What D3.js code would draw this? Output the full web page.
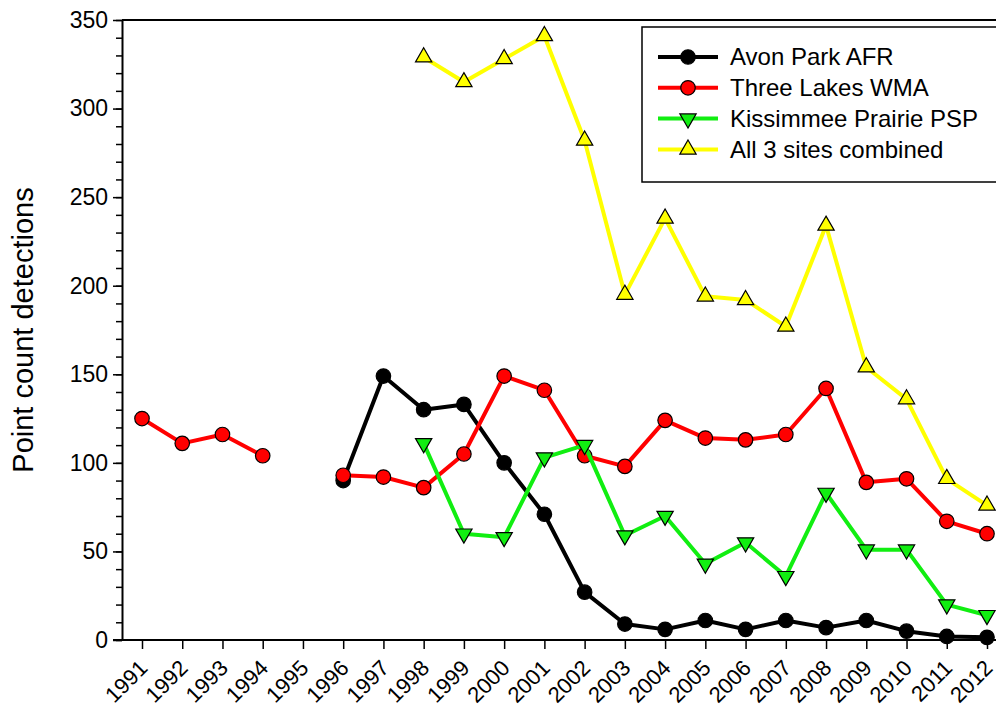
<!DOCTYPE html>
<html>
<head>
<meta charset="utf-8">
<script src="https://cdn.jsdelivr.net/npm/d3@7"></script>
<style>
  body { margin: 0; background: #fff; }
  svg { display: block; font-family: Arial, "Liberation Sans", sans-serif; }
</style>
</head>
<body>
<svg id="chart" width="996" height="707"></svg>
<script>
// data
const years = d3.range(1991, 2013)
const avonPark = [null, null, null, null, null, 90, 149, 130, 133, 100, 71, 27, 9, 6, 11, 6, 11, 7, 11, 5, 2, 1.5]
const threeLakes = [125, 111, 116, 104, null, 93, 92, 86, 105, 149, 141, 104, 98, 124, 114, 113, 116, 142, 89, 91, 67, 60]
const kissimmee = [null, null, null, null, null, null, null, 111, 60, 58, 103, 110, 59, 70, 43, 55, 36, 83, 51, 51, 20, 14]
const combined = [null, null, null, null, null, null, null, 329, 315, 328, 341, 282, 195, 238, 194, 192, 177, 234, 154, 136, 91, 76]
const yTicks = [0, 50, 100, 150, 200, 250, 300, 350]

const series = [
    { name: 'Avon Park AFR', values: avonPark, color: '#000000', shape: 'circle' },
    { name: 'Three Lakes WMA', values: threeLakes, color: '#ff0000', shape: 'circle' },
    { name: 'Kissimmee Prairie PSP', values: kissimmee, color: '#11ee11', shape: 'down' },
    { name: 'All 3 sites combined', values: combined, color: '#ffff00', shape: 'up' }
]

const margin = { top: 20, left: 122, bottom: 640 }
const svg = d3.select('#chart')

const x = d3.scaleLinear()
    .domain([1991, 2012])
    .range([142, 987])

const y = d3.scaleLinear()
    .domain([0, 350])
    .range([margin.bottom, margin.top])

// minor y ticks
svg.append('g')
    .attr('transform', `translate(${margin.left},0)`)
    .call(d3.axisLeft(y).tickValues(d3.range(0, 351, 10)).tickSize(6).tickFormat(''))
    .call(g => g.select('.domain').remove())
    .selectAll('line').attr('stroke-width', 1.5)

// major y axis
const yAxis = svg.append('g')
    .attr('transform', `translate(${margin.left},0)`)
    .call(d3.axisLeft(y).tickValues(yTicks).tickSize(9).tickSizeOuter(0).tickPadding(5))
yAxis.select('.domain').attr('stroke-width', 2)
yAxis.selectAll('line').attr('stroke-width', 1.5)
yAxis.selectAll('text').style('font-size', '23px').attr('fill', '#000')

// top frame line
svg.append('line')
    .attr('x1', margin.left).attr('x2', 1000)
    .attr('y1', y(350)).attr('y2', y(350))
    .attr('stroke', '#000').attr('stroke-width', 2)

// x axis
const xAxis = svg.append('g')
    .attr('transform', `translate(0,${margin.bottom})`)
    .call(d3.axisBottom(x).tickValues(years).tickFormat(d3.format('d')).tickSize(9).tickSizeOuter(0))
xAxis.select('.domain').attr('d', `M${113},0H1000`).attr('stroke-width', 2)
xAxis.selectAll('line').attr('stroke-width', 1.5)
xAxis.selectAll('text')
    .style('font-size', '22px')
    .attr('fill', '#000')
    .attr('text-anchor', 'end')
    .attr('dy', '0.35em')
    .attr('transform', 'translate(1,24) rotate(-45)')
    .attr('y', 0)

// y label
svg.append('text')
    .attr('transform', 'translate(33,330) rotate(-90)')
    .attr('text-anchor', 'middle')
    .style('font-size', '29px')
    .text('Point count detections')

const line = d3.line()
    .defined(d => d.v !== null)
    .x(d => x(d.year))
    .y(d => y(d.v))

function symbolPath(shape) {
    if (shape === 'circle') return d3.symbol(d3.symbolCircle, 165)()
    return d3.symbol(d3.symbolTriangle, 115)()
}

function drawMarker(g, shape, color) {
    g.append('path')
        .attr('d', symbolPath(shape))
        .attr('transform', shape === 'down' ? 'rotate(180)' : null)
        .attr('fill', color)
        .attr('stroke', '#000')
        .attr('stroke-width', 1.2)
}

series.forEach(s => {
    const pts = years.map((yr, i) => ({ year: yr, v: s.values[i] }))
    svg.append('path')
        .datum(pts)
        .attr('d', line)
        .attr('fill', 'none')
        .attr('stroke', s.color)
        .attr('stroke-width', 4)
        .attr('stroke-linejoin', 'round')

    pts.filter(d => d.v !== null).forEach(d => {
        const g = svg.append('g').attr('transform', `translate(${x(d.year)},${y(d.v)})`)
        drawMarker(g, s.shape, s.color)
    })
})

// legend
const legend = svg.append('g')
legend.append('rect')
    .attr('x', 642).attr('y', 27)
    .attr('width', 400).attr('height', 155)
    .attr('fill', '#fff')
    .attr('stroke', '#000')
    .attr('stroke-width', 1.5)

series.forEach((s, i) => {
    const cy = 57 + i * 30.8
    const row = legend.append('g')
    row.append('line')
        .attr('x1', 658).attr('x2', 718)
        .attr('y1', cy).attr('y2', cy)
        .attr('stroke', s.color)
        .attr('stroke-width', 4)
    const g = row.append('g').attr('transform', `translate(688,${cy})`)
    drawMarker(g, s.shape, s.color)
    row.append('text')
        .attr('x', 730).attr('y', cy)
        .attr('dy', '0.35em')
        .style('font-size', '24px')
        .text(s.name)
})
</script>
</body>
</html>
